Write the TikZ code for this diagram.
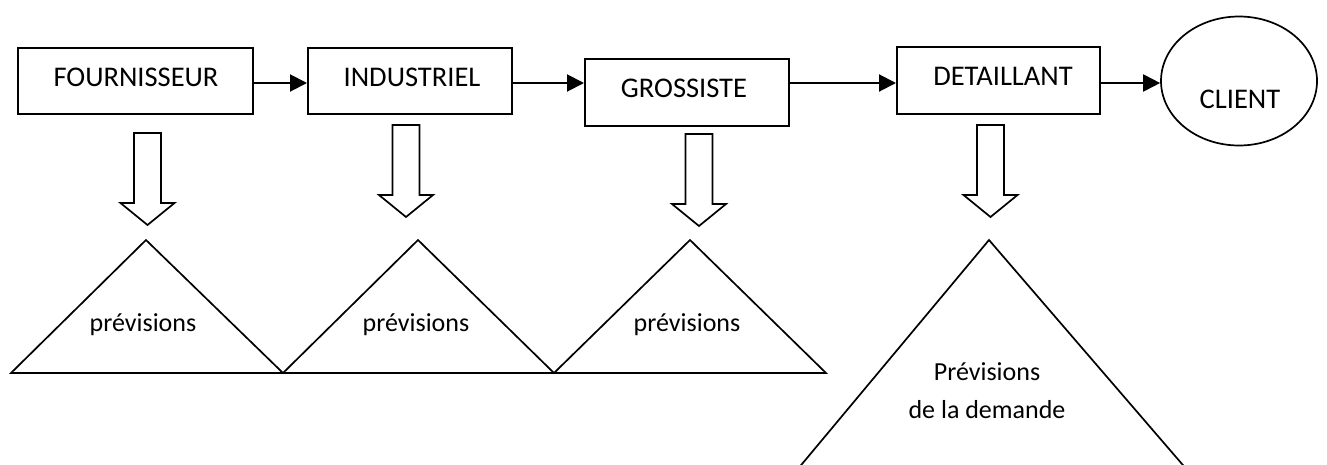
\documentclass[tikz,border=0pt]{standalone}
\usepackage{fontspec}
\setmainfont{Carlito}
\usetikzlibrary{arrows.meta,shapes.geometric,calc}

\tikzset{
  stage/.style={draw, line width=1.7pt, inner sep=0pt, anchor=north west},
  caption/.style={inner sep=0pt, anchor=base, font=\fontsize{28.5}{34}\selectfont},
  small/.style={inner sep=0pt, anchor=base, font=\fontsize{26}{31}\selectfont},
  flow/.style={line width=2pt, -{Triangle[length=17pt,width=17pt]}},
  tri/.style={draw, line width=1.7pt, line join=miter},
  pics/downblock/.style={code={
    \draw[line width=1.7pt, line join=miter]
      (-13.5,0) -- (13.5,0) -- (13.5,70) -- (27,70) -- (0,92)
      -- (-27,70) -- (-13.5,70) -- cycle;
  }}
}

\begin{document}
\begin{tikzpicture}[x=1pt,y=-1pt]
\useasboundingbox (0,0) rectangle (1327,464);

% supply chain stages
\node[stage, minimum width=235pt, minimum height=66pt] (four) at (17,47) {};
\node[stage, minimum width=204pt, minimum height=66pt] (indu) at (307,47) {};
\node[stage, minimum width=204pt, minimum height=67pt] (gros) at (584,58) {};
\node[stage, minimum width=203pt, minimum height=67pt] (deta) at (896,46) {};
\node[draw, ellipse, line width=1.7pt, inner sep=0pt,
      minimum width=156pt, minimum height=129pt] (client) at (1239,81) {};

\node[caption] (fourT) at (136,86) {FOURNISSEUR};
\node[caption] (induT) at (412,86) {INDUSTRIEL};
\node[caption] (grosT) at (684,97.5) {GROSSISTE};
\node[caption] (detaT) at (1003,85.5) {DETAILLANT};
\node[caption] (clientT) at (1240,108) {CLIENT};

% flow between stages
\coordinate (row) at (0,83);
\draw[flow] (four.east |- row) -- (indu.west |- row);
\draw[flow] (indu.east |- row) -- (gros.west |- row);
\draw[flow] (gros.east |- row) -- (deta.west |- row);
\draw[flow] (deta.east |- row) -- (client.west |- row);

% block arrows towards the forecasts
\pic at (147.5,133) {downblock};
\pic at (406,125) {downblock};
\pic at (699,134) {downblock};
\pic at (990.5,125) {downblock};

% forecast triangles
\coordinate (b0) at (11,373);
\coordinate (b1) at (283,373);
\coordinate (b2) at (554,373);
\coordinate (b3) at (826,373);
\draw[tri] (b0) -- (146,240) -- (b1) -- (418,240) -- (b2) -- (690,240) -- (b3) -- cycle;

\node[small] (p1) at (143,331) {prévisions};
\node[small] (p2) at (416,331) {prévisions};
\node[small] (p3) at (687,331) {prévisions};

\begin{scope}
  \clip (0,0) rectangle (1327,464);
  \coordinate (apex) at (989,240);
  \draw[tri] ($(apex)!1.3!(802,464)$) -- (apex) -- ($(apex)!1.3!(1182,464)$);
\end{scope}
\node[small] (d1) at (987,380) {Prévisions};
\node[small] (d2) at (987,418) {de la demande};
\end{tikzpicture}
\end{document}
